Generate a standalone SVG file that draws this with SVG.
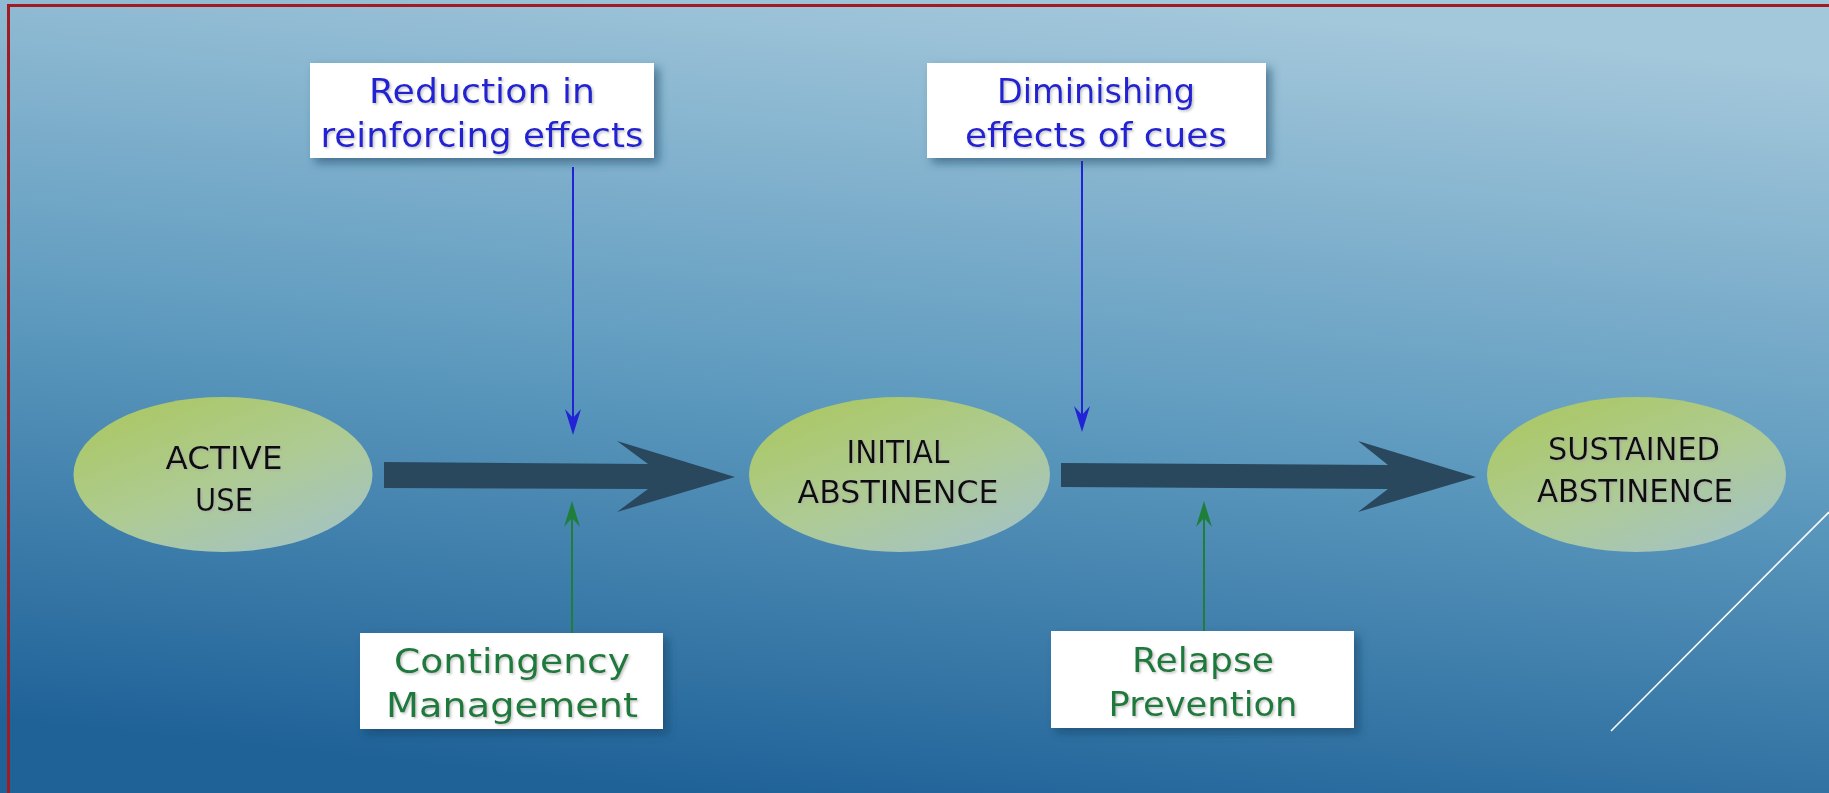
<svg xmlns="http://www.w3.org/2000/svg" width="1829" height="793" viewBox="0 0 1829 793">
<defs>
<linearGradient id="bg" x1="0.62" y1="0" x2="0.38" y2="1">
<stop offset="0" stop-color="#a3c7db"/>
<stop offset="0.5" stop-color="#5f9bbf"/>
<stop offset="1" stop-color="#1f6298"/>
</linearGradient>
<linearGradient id="ell" x1="0.2" y1="0.1" x2="0.85" y2="0.95">
<stop offset="0" stop-color="#abc86a"/>
<stop offset="0.5" stop-color="#aecb94"/>
<stop offset="1" stop-color="#a4c3c2"/>
</linearGradient>
<filter id="boxsh" x="-10%" y="-15%" width="125%" height="140%">
<feDropShadow dx="5" dy="5" stdDeviation="5" flood-color="#163f60" flood-opacity="0.55"/>
</filter>
<filter id="txtsh" x="-5%" y="-10%" width="110%" height="130%">
<feDropShadow dx="1.5" dy="1.5" stdDeviation="0.8" flood-color="#aaaaaa" flood-opacity="0.7"/>
</filter>
<style>
.box{fill:#ffffff;filter:url(#boxsh);}
.ell{fill:url(#ell);}
.bt{font-family:"DejaVu Sans",sans-serif;font-size:33px;text-anchor:middle;filter:url(#txtsh);}
.blue{fill:#2323d2;}
.green{fill:#1f7a3c;}
.et{font-family:"DejaVu Sans",sans-serif;font-size:32px;text-anchor:middle;fill:#111111;filter:url(#txtsh);}
.big{fill:#29485e;}
.bl{stroke:#2222d6;stroke-width:2;fill:none;}
.gl{stroke:#1f7f3a;stroke-width:2;fill:none;}
.bh{fill:#2222d6;}
.gh{fill:#1f7f3a;}
</style>
</defs>
<rect x="0" y="0" width="1829" height="793" fill="url(#bg)"/>
<path d="M8.5,793 L8.5,5.5 L1829,5.5" fill="none" stroke="#9e1c22" stroke-width="3"/>
<line x1="1611" y1="731" x2="1829" y2="512" stroke="#ffffff" stroke-width="1.6"/>

<g id="connectors">
<polygon class="big" points="384,462 648,464 617,441 735,477 617,512 648,489 384,488"/>
<polygon class="big" points="1061,463 1388,465 1358,441 1476,477 1358,512 1388,489 1061,487"/>
<line class="bl" x1="573" y1="167" x2="573" y2="420"/>
<path class="bh" d="M573,435 L565,409 L573,418 L581,409 Z"/>
<line class="bl" x1="1082" y1="161" x2="1082" y2="418"/>
<path class="bh" d="M1082,432 L1074,406 L1082,415 L1090,406 Z"/>
<line class="gl" x1="572" y1="633" x2="572" y2="515"/>
<path class="gh" d="M572,501 L564,527 L572,518 L580,527 Z"/>
<line class="gl" x1="1204" y1="631" x2="1204" y2="515"/>
<path class="gh" d="M1204,501 L1196,527 L1204,518 L1212,527 Z"/>
</g>

<g id="node-active-use">
<ellipse class="ell" cx="223" cy="474.5" rx="149.5" ry="77.5"/>
<text class="et" x="224" y="469" textLength="117" lengthAdjust="spacingAndGlyphs">ACTIVE</text>
<text class="et" x="224" y="511" textLength="58" lengthAdjust="spacingAndGlyphs">USE</text>
</g>
<g id="node-initial-abstinence">
<ellipse class="ell" cx="899.5" cy="474.5" rx="150.5" ry="77.5"/>
<text class="et" x="898" y="463" textLength="103" lengthAdjust="spacingAndGlyphs">INITIAL</text>
<text class="et" x="898" y="503" textLength="201" lengthAdjust="spacingAndGlyphs">ABSTINENCE</text>
</g>
<g id="node-sustained-abstinence">
<ellipse class="ell" cx="1636.5" cy="474.5" rx="149.5" ry="77.5"/>
<text class="et" x="1634" y="460" textLength="172" lengthAdjust="spacingAndGlyphs">SUSTAINED</text>
<text class="et" x="1635" y="502" textLength="196" lengthAdjust="spacingAndGlyphs">ABSTINENCE</text>
</g>

<g id="node-reduction">
<rect class="box" x="310" y="63" width="344" height="95"/>
<text class="bt blue" x="482" y="103" textLength="226" lengthAdjust="spacingAndGlyphs">Reduction in</text>
<text class="bt blue" x="482" y="147" textLength="323" lengthAdjust="spacingAndGlyphs">reinforcing effects</text>
</g>
<g id="node-diminishing">
<rect class="box" x="927" y="63" width="339" height="95"/>
<text class="bt blue" x="1096" y="103" textLength="198" lengthAdjust="spacingAndGlyphs">Diminishing</text>
<text class="bt blue" x="1096" y="147" textLength="262" lengthAdjust="spacingAndGlyphs">effects of cues</text>
</g>
<g id="node-contingency">
<rect class="box" x="360" y="633" width="303" height="96"/>
<text class="bt green" x="512" y="673" textLength="236" lengthAdjust="spacingAndGlyphs">Contingency</text>
<text class="bt green" x="512" y="717" textLength="252" lengthAdjust="spacingAndGlyphs">Management</text>
</g>
<g id="node-relapse">
<rect class="box" x="1051" y="631" width="303" height="97"/>
<text class="bt green" x="1203" y="672" textLength="142" lengthAdjust="spacingAndGlyphs">Relapse</text>
<text class="bt green" x="1203" y="716" textLength="189" lengthAdjust="spacingAndGlyphs">Prevention</text>
</g>
</svg>
